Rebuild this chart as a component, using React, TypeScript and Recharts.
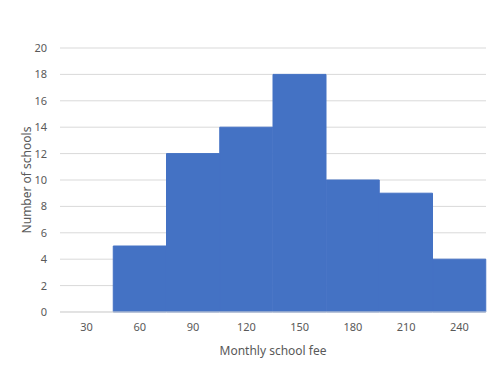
import React from "react";
import { BarChart, Bar, XAxis, YAxis, CartesianGrid, Label } from "recharts";

const categories = ["30", "60", "90", "120", "150", "180", "210", "240"];
const schools = [0, 5, 12, 14, 18, 10, 9, 4];
const yTicks = [0, 2, 4, 6, 8, 10, 12, 14, 16, 18, 20];

const data = categories.map((c, i) => ({ fee: c, count: schools[i] }));

const FONT = "'Noto Sans', 'Open Sans', sans-serif";
const tickStyle = { fill: "#595959", fontSize: 11, fontFamily: FONT };

export default function App() {
  return (
    <div
      style={{
        margin: -8,
        width: 501,
        height: 372,
        borderBottom: "1px solid #d9d9d9",
        background: "#fff",
      }}
    >
      <BarChart
        width={501}
        height={372}
        data={data}
        margin={{ top: 48, right: 15, left: 0, bottom: 15 }}
        barCategoryGap={0}
      >
        <CartesianGrid vertical={false} stroke="#d9d9d9" strokeWidth={1} />
        <XAxis
          dataKey="fee"
          height={45}
          tickLine={false}
          axisLine={{ stroke: "#d9d9d9" }}
          tick={tickStyle}
          tickMargin={5}
          interval={0}
        >
          <Label
            value="Monthly school fee"
            position="insideBottom"
            offset={2}
            style={{ fill: "#595959", fontSize: 12, fontFamily: FONT }}
          />
        </XAxis>
        <YAxis
          width={60}
          domain={[0, 20]}
          ticks={yTicks}
          tickLine={false}
          axisLine={false}
          tick={tickStyle}
          tickMargin={7}
          interval={0}
        >
          <Label
            value="Number of schools"
            angle={-90}
            position="center"
            dx={-3}
            style={{ fill: "#595959", fontSize: 12, fontFamily: FONT, textAnchor: "middle" }}
          />
        </YAxis>
        <Bar
          dataKey="count"
          fill="#4472C4"
          stroke="#4472C4"
          strokeWidth={1}
          isAnimationActive={false}
        />
      </BarChart>
    </div>
  );
}
